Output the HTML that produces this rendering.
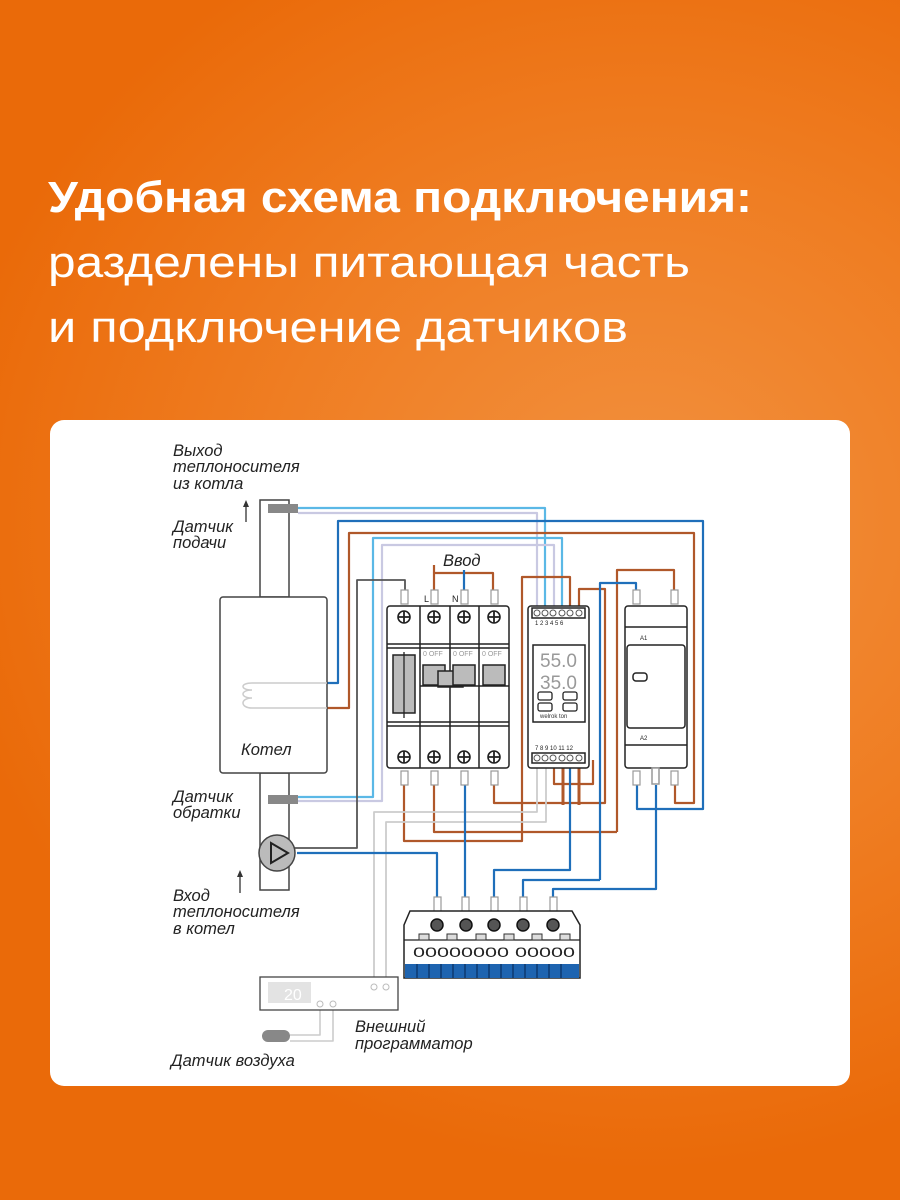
<!DOCTYPE html>
<html><head><meta charset="utf-8"><style>
html,body{margin:0;padding:0;width:900px;height:1200px;overflow:hidden}
body{background:radial-gradient(ellipse 700px 650px at 640px 520px,#f2913f 0%,#ef7d22 55%,#ea6a09 100%)}
svg{position:absolute;left:0;top:0}
.t{font-family:"Liberation Sans","DejaVu Sans",sans-serif;fill:#fff}
.l{font-family:"Liberation Sans","DejaVu Sans",sans-serif;font-style:italic;fill:#222;font-size:16.5px}
</style></head><body>
<svg width="900" height="1200" viewBox="0 0 900 1200">
<text class="t" x="48" y="212" font-size="44" font-weight="bold" textLength="704" lengthAdjust="spacingAndGlyphs">Удобная схема подключения:</text>
<text class="t" x="48" y="277" font-size="44" textLength="642" lengthAdjust="spacingAndGlyphs">разделены питающая часть</text>
<text class="t" x="48" y="342" font-size="44" textLength="580" lengthAdjust="spacingAndGlyphs">и подключение датчиков</text>
<rect x="50" y="420" width="800" height="666" rx="14" fill="#fff"/>

<g fill="none" stroke-width="2.2" stroke-linejoin="round">
<polyline stroke="#5bb8e6" points="298,508 545,508 545,607"/>
<polyline stroke="#c9c9e2" points="298,513 537,513 537,607"/>
<polyline stroke="#1f6fba" points="327,683 338,683 338,521 703,521 703,809 637,809 637,785"/>
<polyline stroke="#b0582a" points="327,708 349,708 349,533 694,533 694,803 675,803 675,785"/>
<polyline stroke="#5bb8e6" points="298,797 373,797 373,538 562,538 562,607"/>
<polyline stroke="#c9c9e2" points="298,801 382,801 382,545 554,545 554,607"/>
<polyline stroke="#555" stroke-width="1.8" points="289,848 357,848 357,580 405,580 405,590"/>
<polyline stroke="#b0582a" points="434,590 434,573 493,573 493,590"/>
<line x1="434" y1="573" x2="434" y2="565" stroke="#b0582a"/>
<line x1="464" y1="570" x2="464" y2="590" stroke="#1f6fba"/>
<polyline stroke="#b0582a" points="570,607 570,577 522,577 522,841 404,841 404,785"/>
<polyline stroke="#b0582a" points="579,607 579,589 605,589 605,803 494,803 494,785"/>
<polyline stroke="#b0582a" points="617,832 617,570 674,570 674,590"/>
<polyline stroke="#b0582a" points="434,785 434,832 617,832"/>
<polyline stroke="#1f6fba" points="600,880 600,583 636,583 636,590"/>
<polyline stroke="#b0582a" points="554,768 554,784 593,784 593,760"/>
<line x1="563" y1="768" x2="563" y2="805" stroke="#b0582a" stroke-width="3"/>
<line x1="579" y1="768" x2="579" y2="805" stroke="#b0582a" stroke-width="3"/>
<polyline stroke="#ccc" stroke-width="1.8" points="537,768 537,812 374,812 374,985"/>
<polyline stroke="#ccc" stroke-width="1.8" points="546,768 546,822 386,822 386,985"/>
<polyline stroke="#1f6fba" points="297,853 437,853 437,897"/>
<line x1="465" y1="785" x2="465" y2="897" stroke="#1f6fba"/>
<polyline stroke="#1f6fba" points="494,897 494,870 570,870 570,768"/>
<polyline stroke="#1f6fba" points="523,897 523,880 600,880"/>
<polyline stroke="#1f6fba" points="553,897 553,889 656,889 656,785"/>
<polyline stroke="#ccc" stroke-width="1.6" points="320,1005 320,1035 290,1035"/>
<polyline stroke="#ccc" stroke-width="1.6" points="333,1005 333,1041 290,1041"/>
</g>

<g fill="#fff" stroke="#444" stroke-width="1.5">
<rect x="260" y="500" width="29" height="97"/>
<rect x="260" y="773" width="29" height="117"/>
<rect x="220" y="597" width="107" height="176" rx="3"/>
<circle cx="277" cy="853" r="18" fill="#bbb"/>
<polygon points="271,843 271,863 288,853" fill="#bbb" stroke="#222" stroke-width="2"/>
</g>
<g fill="none" stroke="#ccc" stroke-width="1.5">
<path d="M327,683 L252,683 C240,683 240,690 252,690 C240,690 240,698 252,698 C240,698 240,708 252,708 L327,708"/>
</g>
<rect x="268" y="504" width="30" height="9" fill="#888"/>
<rect x="268" y="795" width="30" height="9" fill="#888"/>
<text class="l" x="241" y="755" font-size="18">Котел</text>

<text class="l" x="173" y="456">Выход</text>
<text class="l" x="173" y="472">теплоносителя</text>
<text class="l" x="173" y="489">из котла</text>
<text class="l" x="173" y="532">Датчик</text>
<text class="l" x="173" y="548">подачи</text>
<text class="l" x="173" y="802">Датчик</text>
<text class="l" x="173" y="818">обратки</text>
<text class="l" x="173" y="901">Вход</text>
<text class="l" x="173" y="917">теплоносителя</text>
<text class="l" x="173" y="934">в котел</text>
<text class="l" x="443" y="566">Ввод</text>
<text class="l" x="355" y="1032">Внешний</text>
<text class="l" x="355" y="1049">программатор</text>
<text class="l" x="171" y="1066">Датчик воздуха</text>
<g stroke="#333" stroke-width="1.3"><line x1="246" y1="522" x2="246" y2="504"/><line x1="240" y1="893" x2="240" y2="874"/></g>
<polygon points="246,500 243,507 249,507" fill="#333"/><polygon points="240,870 237,877 243,877" fill="#333"/>

<g fill="#fff" stroke="#999" stroke-width="1.2">
<rect x="401" y="590" width="7" height="14"/><rect x="431" y="590" width="7" height="14"/><rect x="461" y="590" width="7" height="14"/><rect x="491" y="590" width="7" height="14"/>
<rect x="401" y="771" width="7" height="14"/><rect x="431" y="771" width="7" height="14"/><rect x="461" y="771" width="7" height="14"/><rect x="491" y="771" width="7" height="14"/>
<rect x="633" y="590" width="7" height="14"/><rect x="671" y="590" width="7" height="14"/>
<rect x="633" y="771" width="7" height="14"/><rect x="671" y="771" width="7" height="14"/>
<rect x="434" y="897" width="7" height="15"/><rect x="462" y="897" width="7" height="15"/><rect x="491" y="897" width="7" height="15"/><rect x="520" y="897" width="7" height="15"/><rect x="550" y="897" width="7" height="15"/>
</g>

<g fill="#fff" stroke="#222" stroke-width="1.5">
<rect x="387" y="606" width="122" height="162" rx="3"/>
<line x1="420" y1="606" x2="420" y2="768"/><line x1="450" y1="606" x2="450" y2="768"/><line x1="479" y1="606" x2="479" y2="768"/>
<line x1="387" y1="644" x2="509" y2="644"/><line x1="387" y1="648" x2="509" y2="648"/>
<line x1="387" y1="722" x2="509" y2="722"/><line x1="387" y1="726" x2="509" y2="726"/>
<rect x="393" y="655" width="22" height="58" fill="#bbb"/>
<rect x="423" y="665" width="22" height="20" fill="#bbb"/><rect x="438" y="671" width="25" height="16" fill="#bbb"/>
<rect x="453" y="665" width="22" height="20" fill="#bbb"/><rect x="483" y="665" width="22" height="20" fill="#bbb"/>
<line x1="420" y1="686" x2="509" y2="686"/>
</g>
<line x1="404" y1="652" x2="404" y2="718" stroke="#222" stroke-width="1.3"/>
<g font-family="Liberation Sans,sans-serif" font-size="7" fill="#999"><text x="423" y="656">0  OFF</text><text x="453" y="656">0  OFF</text><text x="482" y="656">0  OFF</text></g>
<g font-family="Liberation Sans,sans-serif" font-size="9" fill="#222"><text x="424" y="602">L</text><text x="452" y="602">N</text></g>
<g fill="#fff" stroke="#222" stroke-width="1.6">
<circle cx="404" cy="617" r="6"/><circle cx="434" cy="617" r="6"/><circle cx="464" cy="617" r="6"/><circle cx="494" cy="617" r="6"/>
<circle cx="404" cy="757" r="6"/><circle cx="434" cy="757" r="6"/><circle cx="464" cy="757" r="6"/><circle cx="494" cy="757" r="6"/>
<circle cx="655" cy="636" r="6"/><circle cx="655" cy="736" r="6"/><circle cx="636" cy="616" r="6"/><circle cx="676" cy="616" r="6"/><circle cx="636" cy="756" r="6"/><circle cx="676" cy="756" r="6"/>
</g>
<g stroke="#222" stroke-width="1.8">
<path d="M398,617h12M404,611v12M428,617h12M434,611v12M458,617h12M464,611v12M488,617h12M494,611v12"/>
<path d="M398,757h12M404,751v12M428,757h12M434,751v12M458,757h12M464,751v12M488,757h12M494,751v12"/>
<path d="M649,636h12M655,630v12M649,736h12M655,730v12M630,616h12M636,610v12M670,616h12M676,610v12M630,756h12M636,750v12M670,756h12M676,750v12"/>
</g>

<g fill="#fff" stroke="#222" stroke-width="1.5">
<rect x="528" y="606" width="61" height="162" rx="3"/>
<rect x="532" y="608" width="53" height="10" fill="#fff"/>
<rect x="532" y="753" width="53" height="10" fill="#fff"/>
<rect x="533" y="645" width="52" height="77"/>
</g>
<g fill="#fff" stroke="#555" stroke-width="1"><circle cx="537" cy="613" r="3"/><circle cx="545" cy="613" r="3"/><circle cx="553" cy="613" r="3"/><circle cx="562" cy="613" r="3"/><circle cx="570" cy="613" r="3"/><circle cx="579" cy="613" r="3"/>
<circle cx="537" cy="758" r="3"/><circle cx="545" cy="758" r="3"/><circle cx="553" cy="758" r="3"/><circle cx="562" cy="758" r="3"/><circle cx="570" cy="758" r="3"/><circle cx="579" cy="758" r="3"/></g>
<g font-family="Liberation Sans,sans-serif" font-size="6" fill="#222"><text x="535" y="625">1  2  3  4  5  6</text><text x="535" y="750">7  8  9 10 11 12</text></g>
<text x="540" y="667" font-family="Liberation Sans,sans-serif" font-size="19" fill="#999">55.0</text>
<text x="540" y="689" font-family="Liberation Sans,sans-serif" font-size="19" fill="#999">35.0</text>
<g fill="none" stroke="#222" stroke-width="1.3"><rect x="538" y="692" width="14" height="8" rx="2"/><rect x="563" y="692" width="14" height="8" rx="2"/><rect x="538" y="703" width="14" height="8" rx="2"/><rect x="563" y="703" width="14" height="8" rx="2"/></g>
<text x="540" y="718" font-family="Liberation Sans,sans-serif" font-size="6" fill="#333">welrok ton</text>

<g fill="#fff" stroke="#222" stroke-width="1.5">
<rect x="625" y="606" width="62" height="162" rx="3"/>
<line x1="625" y1="627" x2="687" y2="627"/><line x1="625" y1="745" x2="687" y2="745"/>
<rect x="627" y="645" width="58" height="83" rx="3"/>
<rect x="633" y="673" width="14" height="8" rx="3"/>
<rect x="652" y="768" width="7" height="16" fill="#fff" stroke="#999"/>
</g>
<g font-family="Liberation Sans,sans-serif" font-size="6" fill="#222"><text x="640" y="640">A1</text><text x="640" y="740">A2</text></g>

<path d="M410,911 L572,911 L580,925 L580,978 L404,978 L404,925 Z" fill="#fff" stroke="#222" stroke-width="1.5"/>
<line x1="404" y1="940" x2="580" y2="940" stroke="#222" stroke-width="1.2"/>
<rect x="405" y="964" width="174" height="14" fill="#1e64b0"/>
<g stroke="#0d3a70" stroke-width="1.5"><path d="M417,964v14M429,964v14M441,964v14M453,964v14M465,964v14M477,964v14M489,964v14M501,964v14M513,964v14M525,964v14M537,964v14M549,964v14M561,964v14"/></g>
<g fill="#555" stroke="#111" stroke-width="1.5"><circle cx="437" cy="925" r="6"/><circle cx="466" cy="925" r="6"/><circle cx="494" cy="925" r="6"/><circle cx="523" cy="925" r="6"/><circle cx="553" cy="925" r="6"/></g>
<g fill="#ddd" stroke="#333" stroke-width="1"><rect x="419" y="934" width="10" height="6"/><rect x="447" y="934" width="10" height="6"/><rect x="476" y="934" width="10" height="6"/><rect x="504" y="934" width="10" height="6"/><rect x="532" y="934" width="10" height="6"/><rect x="560" y="934" width="10" height="6"/></g>
<text x="413" y="957" font-family="Liberation Sans,sans-serif" font-size="14" fill="#222" textLength="162" lengthAdjust="spacingAndGlyphs">00000000 00000</text>

<rect x="260" y="977" width="138" height="33" fill="#fff" stroke="#444" stroke-width="1.3"/>
<rect x="268" y="982" width="43" height="21" fill="#e3e3e3"/>
<text x="284" y="1000" font-family="Liberation Sans,sans-serif" font-size="16" fill="#fff">20</text>
<g fill="#fff" stroke="#bbb"><circle cx="320" cy="1004" r="3"/><circle cx="333" cy="1004" r="3"/><circle cx="374" cy="987" r="3"/><circle cx="386" cy="987" r="3"/></g>
<rect x="262" y="1030" width="28" height="12" rx="6" fill="#888"/>
</svg>
</body></html>
